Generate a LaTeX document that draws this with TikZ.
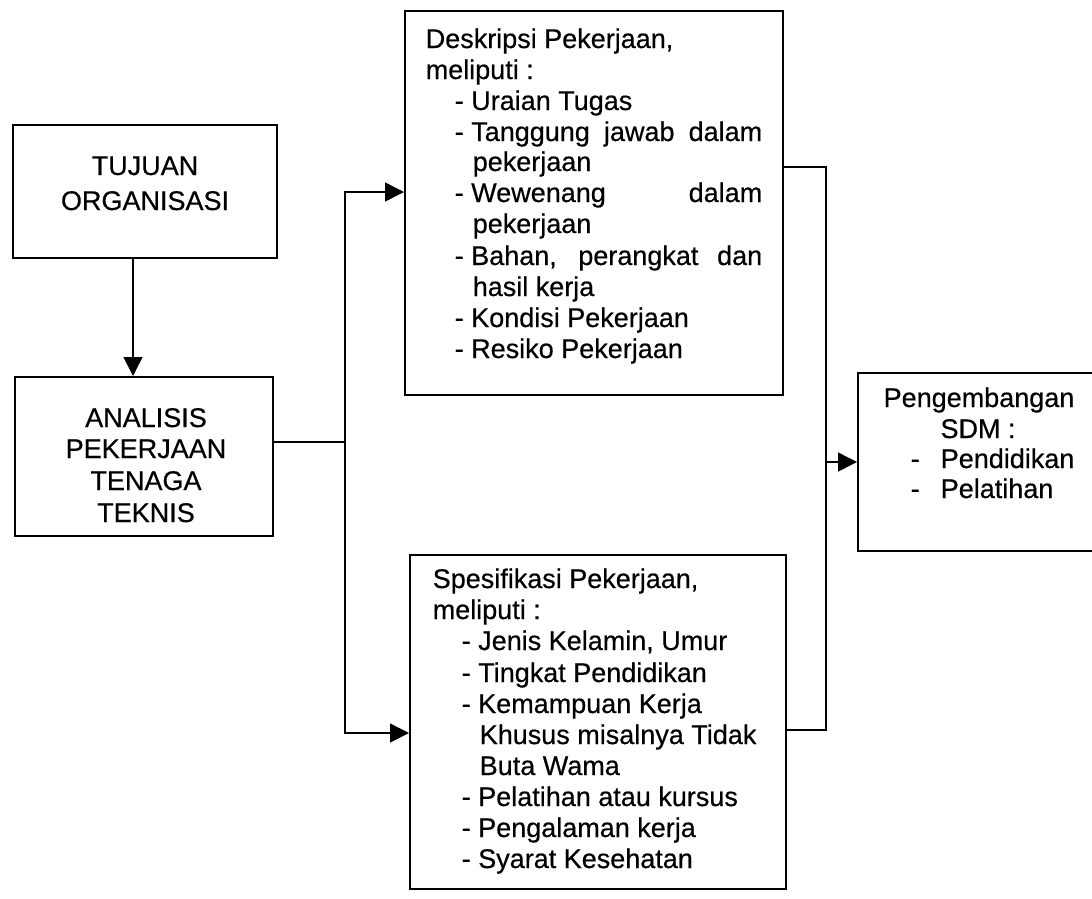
\documentclass[tikz,border=0pt]{standalone}
\usepackage{fontspec}
\setmainfont{Liberation Sans}[FakeBold=0.5]
\usetikzlibrary{arrows.meta}
\begin{document}
\begin{tikzpicture}[x=1pt,y=-1pt,line width=1.5pt,
  box/.style={draw,rectangle,anchor=north west,inner sep=0pt},
  txt/.style={anchor=base west,inner sep=0pt,font=\fontsize{27}{31}\selectfont},
  ctxt/.style={anchor=base,inner sep=0pt,font=\fontsize{27}{31}\selectfont},
  arr/.style={-{Triangle[length=19pt,width=19pt]}}]
\useasboundingbox (0,0) rectangle (1092,898);
% boxes
\node[box,minimum width=264pt,minimum height=133pt] (tujuan) at (12,124) {};
\node[box,minimum width=258pt,minimum height=159pt] (analisis) at (14,376) {};
\node[box,minimum width=378pt,minimum height=384pt] (desk) at (404,10) {};
\node[box,minimum width=376pt,minimum height=334pt] (spes) at (409,554) {};
\node[box,minimum width=260pt,minimum height=178pt] (peng) at (857,372) {};
% texts: tujuan
\node[ctxt] (t1) at (145,175) {TUJUAN};
\node[ctxt] (t2) at (145,210) {ORGANISASI};
% analisis
\node[ctxt] (a1) at (146,427) {ANALISIS};
\node[ctxt] (a2) at (146,458) {PEKERJAAN};
\node[ctxt] (a3) at (146,490) {TENAGA};
\node[ctxt] (a4) at (146,522) {TEKNIS};
% deskripsi
\node[txt] (d1) at (425,48) {Deskripsi Pekerjaan,};
\node[txt] (d2) at (425,79) {meliputi :};
\node[txt] (d3) at (454,110) {- Uraian Tugas};
\node[txt] (d4) at (454,141) {- \makebox[291pt][s]{Tanggung jawab dalam}};
\node[txt] (d5) at (472,171) {pekerjaan};
\node[txt] (d6) at (454,202) {- \makebox[291pt][s]{Wewenang dalam}};
\node[txt] (d7) at (472,233) {pekerjaan};
\node[txt] (d8) at (454,265) {- \makebox[291pt][s]{Bahan, perangkat dan}};
\node[txt] (d9) at (472,296) {hasil kerja};
\node[txt] (d10) at (454,327) {- Kondisi Pekerjaan};
\node[txt] (d11) at (454,358) {- Resiko Pekerjaan};
% spesifikasi
\node[txt] (s1) at (432,588) {Spesifikasi Pekerjaan,};
\node[txt] (s2) at (432,619) {meliputi :};
\node[txt] (s3) at (461,650) {- Jenis Kelamin, Umur};
\node[txt] (s4) at (461,682) {- Tingkat Pendidikan};
\node[txt] (s5) at (461,713) {- Kemampuan Kerja};
\node[txt] (s6) at (479,744) {Khusus misalnya Tidak};
\node[txt] (s7) at (479,775) {Buta Wama};
\node[txt] (s8) at (461,806) {- Pelatihan atau kursus};
\node[txt] (s9) at (461,837) {- Pengalaman kerja};
\node[txt] (s10) at (461,868) {- Syarat Kesehatan};
% pengembangan
\node[ctxt] (p1) at (979,407) {Pengembangan};
\node[ctxt] (p2) at (978,438) {SDM :};
\node[txt] (p3) at (910,468) {\makebox[30pt][l]{-}Pendidikan};
\node[txt] (p4) at (910,498) {\makebox[30pt][l]{-}Pelatihan};
% connector coordinates
\coordinate (ta) at (133,0);
\coordinate (jL) at (345,442);
\coordinate (dIn) at (0,192);
\coordinate (sIn) at (0,733);
\coordinate (dOut) at (0,167);
\coordinate (sOut) at (0,730);
\coordinate (jR) at (826,462);
% connectors
\draw[arr] (tujuan.south -| ta) -- (analisis.north -| ta);
\draw (analisis.east |- jL) -- (jL);
\draw[arr] (jL) |- (desk.west |- dIn);
\draw[arr] (jL) |- (spes.west |- sIn);
\draw (desk.east |- dOut) -| (jR);
\draw (spes.east |- sOut) -| (jR);
\draw[arr] (jR) -- (peng.west |- jR);
\end{tikzpicture}
\end{document}
